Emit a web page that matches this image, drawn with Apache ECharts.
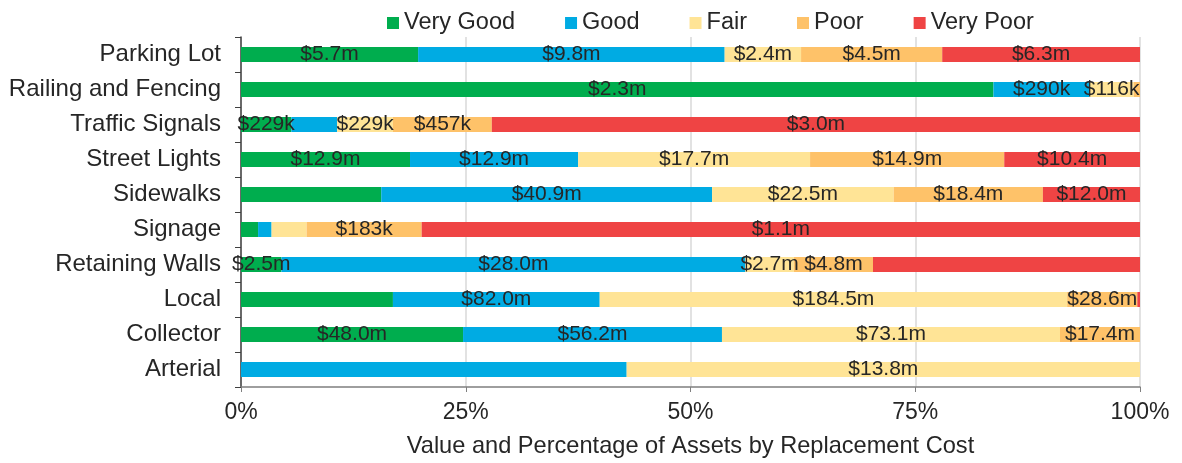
<!DOCTYPE html>
<html>
<head>
<meta charset="utf-8">
<script src="https://cdn.jsdelivr.net/npm/echarts@6/dist/echarts.min.js"></script>
<style>
  html, body { margin: 0; padding: 0; background: #fff; }
  #chart { width: 1182px; height: 463px; }
</style>
</head>
<body>
<div id="chart"></div>
<script>
// share of replacement cost, percent
var categories = ['Parking Lot', 'Railing and Fencing', 'Traffic Signals', 'Street Lights', 'Sidewalks',
  'Signage', 'Retaining Walls', 'Local', 'Collector', 'Arterial'];

var veryGood = [19.7, 83.7, 5.6, 18.8, 15.6, 1.9, 4.5, 16.9, 24.7, 0];
var good = [34.1, 10.7, 5.1, 18.7, 36.8, 1.5, 51.6, 23.0, 28.8, 42.9];
var fair = [8.5, 4.9, 6.2, 25.8, 20.2, 3.9, 5.4, 52.0, 37.6, 57.1];
var poor = [15.7, 0.7, 11.0, 21.6, 16.6, 12.8, 8.8, 7.8, 8.9, 0];
var veryPoor = [22.0, 0, 72.1, 15.1, 10.8, 79.9, 29.7, 0.3, 0, 0];

// dollar labels printed on the segments ('' = no label)
var veryGoodLabels = ['$5.7m', '$2.3m', '$229k', '$12.9m', '', '', '$2.5m', '', '$48.0m', ''];
var goodLabels = ['$9.8m', '$290k', '', '$12.9m', '$40.9m', '', '$28.0m', '$82.0m', '$56.2m', ''];
var fairLabels = ['$2.4m', '$116k', '$229k', '$17.7m', '$22.5m', '', '$2.7m', '$184.5m', '$73.1m', '$13.8m'];
var poorLabels = ['$4.5m', '', '$457k', '$14.9m', '$18.4m', '$183k', '$4.8m', '$28.6m', '$17.4m', ''];
var veryPoorLabels = ['$6.3m', '', '$3.0m', '$10.4m', '$12.0m', '$1.1m', '', '', '', ''];

var font = 'Liberation Sans, Arial, sans-serif';
var textColor = '#262626';

function makeSeries (name, values, labels, color) {
  return {
    name: name,
    type: 'bar',
    stack: 'total',
    barWidth: 15,
    itemStyle: { color: color },
    label: {
      show: true,
      position: 'inside',
      color: textColor,
      fontFamily: font,
      fontSize: 21,
      formatter: function (p) {
        return labels[p.dataIndex];
      }
    },
    emphasis: { disabled: true },
    data: values
  };
}

var myChart = echarts.init(document.getElementById('chart'));

myChart.setOption({
  animation: false,
  textStyle: { fontFamily: font },
  legend: {
    left: 382,
    top: 6,
    icon: 'rect',
    itemWidth: 12,
    itemHeight: 12,
    itemGap: 50,
    textStyle: { color: textColor, fontSize: 23.5, fontFamily: font }
  },
  grid: {
    left: 241,
    right: 42,
    top: 37,
    bottom: 76
  },
  xAxis: {
    type: 'value',
    min: 0,
    max: 100,
    interval: 25,
    name: 'Value and Percentage of Assets by Replacement Cost',
    nameLocation: 'middle',
    nameGap: 47,
    nameTextStyle: { color: textColor, fontSize: 23.6, fontFamily: font },
    axisLine: { show: true, lineStyle: { color: '#7f7f7f', width: 1.5 } },
    axisTick: { show: true, length: 5, lineStyle: { color: '#7f7f7f' } },
    axisLabel: {
      color: textColor,
      fontSize: 23,
      fontFamily: font,
      margin: 14,
      formatter: '{value}%'
    },
    splitLine: { show: true, lineStyle: { color: '#d9d9d9', width: 1.5 } }
  },
  yAxis: {
    type: 'category',
    inverse: true,
    data: categories,
    axisLine: { show: true, lineStyle: { color: '#404040', width: 1.5 } },
    axisTick: { show: true, length: 6, lineStyle: { color: '#404040' } },
    axisLabel: { color: textColor, fontSize: 24, fontFamily: font, margin: 20 },
    splitLine: { show: false }
  },
  series: [
    makeSeries('Very Good', veryGood, veryGoodLabels, '#00ad4e'),
    makeSeries('Good', good, goodLabels, '#00abe3'),
    makeSeries('Fair', fair, fairLabels, '#ffe496'),
    makeSeries('Poor', poor, poorLabels, '#fec269'),
    makeSeries('Very Poor', veryPoor, veryPoorLabels, '#ef4444')
  ]
});
</script>
</body>
</html>
